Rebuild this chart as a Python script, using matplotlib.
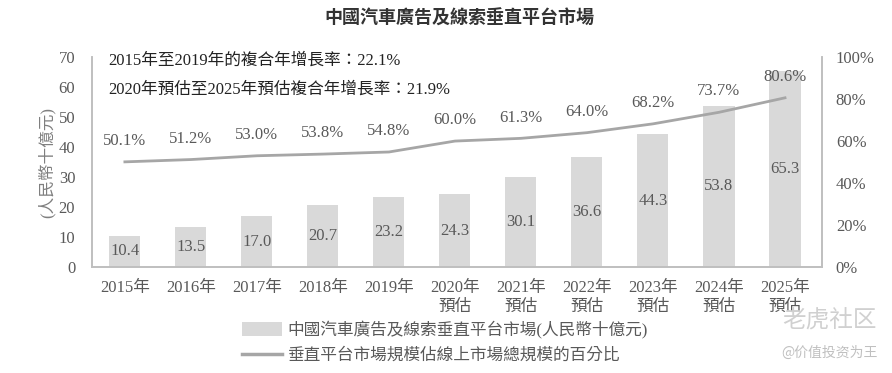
import matplotlib
matplotlib.use("Agg")
import matplotlib.pyplot as plt
from matplotlib.patches import Patch
from matplotlib.lines import Line2D

plt.rcParams['font.family'] = ['Liberation Serif', 'Noto Sans CJK TC']

# data
years = ['2015年', '2016年', '2017年', '2018年', '2019年',
         '2020年\n預估', '2021年\n預估', '2022年\n預估', '2023年\n預估',
         '2024年\n預估', '2025年\n預估']
market = [10.4, 13.5, 17.0, 20.7, 23.2, 24.3, 30.1, 36.6, 44.3, 53.8, 65.3]
share = [50.1, 51.2, 53.0, 53.8, 54.8, 60.0, 61.3, 64.0, 68.2, 73.7, 80.6]

title = '中國汽車廣告及線索垂直平台市場'
note1 = '2015年至2019年的複合年增長率：22.1%'
note2 = '2020年預估至2025年預估複合年增長率：21.9%'
bar_label = '中國汽車廣告及線索垂直平台市場(人民幣十億元)'
line_label = '垂直平台市場規模佔線上市場總規模的百分比'
ylabel = '(人民幣十億元)'

bar_color = '#d9d9d9'
line_color = '#a6a6a6'
text_color = '#595959'
spine_color = '#bfbfbf'

fig = plt.figure(figsize=(8.92, 3.73), dpi=100)
ax = fig.add_axes([0.103, 0.284, 0.8185, 0.563])
ax2 = ax.twinx()

x = list(range(len(years)))
ax.bar(x, market, width=0.47, color=bar_color, zorder=2)
for xi, v in zip(x, market):
    ax.text(xi, v / 2, f'{v:.1f}', ha='center', va='center',
            fontsize=12, color=text_color, zorder=3)

ax2.plot(x, share, color=line_color, lw=2, zorder=3)
for xi, v in zip(x, share):
    ax2.annotate(f'{v:.1f}%', (xi, v), xytext=(0, 15), textcoords='offset points',
                 ha='center', va='center', fontsize=12, color=text_color)

ax.set_xlim(-0.5, 10.56)
ax.set_ylim(0, 70)
ax.set_yticks(range(0, 71, 10))
ax2.set_ylim(0, 100)
ax2.set_yticks(range(0, 101, 20))
ax2.set_yticklabels([f'{t}%' for t in range(0, 101, 20)])
ax.set_xticks(x)
ax.set_xticklabels(years)

for a in (ax, ax2):
    a.tick_params(length=0, labelsize=12, labelcolor=text_color)
    a.spines['top'].set_visible(False)
    for s in ('left', 'right', 'bottom'):
        a.spines[s].set_color(spine_color)
        a.spines[s].set_linewidth(1.2)
ax.tick_params(axis='y', pad=12)
ax2.tick_params(axis='y', pad=10)
ax.tick_params(axis='x', pad=9)
for lbl in ax.get_xticklabels():
    lbl.set_linespacing(1.3)

ax.set_ylabel(ylabel, fontsize=12, color='#7f7f7f', labelpad=2)

ax.text(0.022, 0.985, note1, transform=ax.transAxes, fontsize=12,
        color='#222222', va='center')
ax.text(0.022, 0.845, note2, transform=ax.transAxes, fontsize=12,
        color='#222222', va='center')

fig.text(0.515, 0.95, title, ha='center', va='center', fontsize=13,
         fontweight='bold', color='#333333')

handles = [Patch(facecolor=bar_color, edgecolor='none'),
           Line2D([], [], color=line_color, lw=2.5)]
fig.legend(handles, [bar_label, line_label], loc='center left',
           bbox_to_anchor=(0.255, 0.082), frameon=False, fontsize=12,
           labelcolor=text_color, handlelength=2.4, handleheight=0.9,
           handletextpad=0.3, labelspacing=0.5)

# watermark
fig.text(0.93, 0.14, '老虎社区', ha='center', va='center', fontsize=17,
         color='#d0d0d0', family=['Noto Sans CJK SC'])
fig.text(0.93, 0.055, '@价值投资为王', ha='center', va='center', fontsize=10,
         color='#c0c0c0', family=['Noto Sans CJK SC'])

fig.savefig('out.png', dpi=100)
